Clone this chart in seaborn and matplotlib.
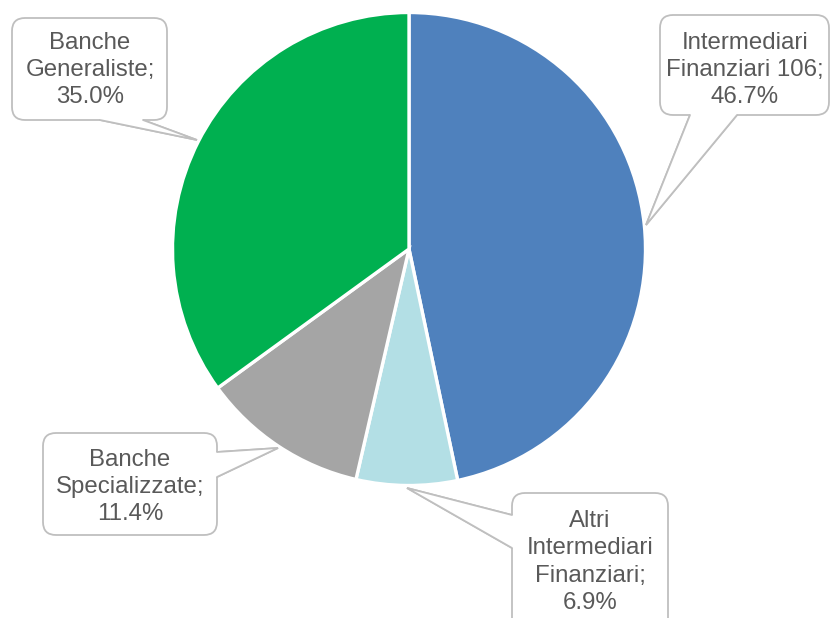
import matplotlib
matplotlib.use("Agg")
import matplotlib.pyplot as plt
import seaborn as sns
from matplotlib.patches import FancyBboxPatch, Polygon
from matplotlib.lines import Line2D

# ---- data ----
categories = ["Intermediari\nFinanziari 106", "Altri\nIntermediari\nFinanziari",
              "Banche\nSpecializzate", "Banche\nGeneraliste"]
values = [46.7, 6.9, 11.4, 35.0]
labels = ["Intermediari\nFinanziari 106;\n46.7%", "Altri\nIntermediari\nFinanziari;\n6.9%",
          "Banche\nSpecializzate;\n11.4%", "Banche\nGeneraliste;\n35.0%"]
colors = ["#4F81BD", "#B3DFE5", "#A5A5A5", "#00B050"]

sns.set_theme(style="white")
plt.rcParams["font.family"] = ["Liberation Sans", "DejaVu Sans"]

W, H = 832, 618
fig = plt.figure(figsize=(W / 100, H / 100), dpi=100)
ax = fig.add_axes([0, 0, 1, 1])
ax.set_xlim(0, W)
ax.set_ylim(0, H)
ax.set_aspect("equal")
ax.axis("off")

cx, cy, r = 409, 249, 236.5
ax.pie(values, colors=colors, startangle=90, counterclock=False,
       center=(cx, H - cy), radius=r, frame=True,
       wedgeprops=dict(edgecolor="white", linewidth=2.4))
ax.set_xlim(0, W)
ax.set_ylim(0, H)
ax.axis("off")

edge = "#BFBFBF"
tcol = "#595959"


def Y(y):
    return H - y


def callout(box, b1, b2, tip, inward, text, tx, ty):
    x0, y0, x1, y1 = box
    tri = Polygon([(b1[0], Y(b1[1])), (tip[0], Y(tip[1])), (b2[0], Y(b2[1]))],
                  closed=True, facecolor="white", edgecolor=edge, lw=1.3, zorder=3)
    ax.add_patch(tri)
    bx = FancyBboxPatch((x0, Y(y1)), x1 - x0, y1 - y0,
                        boxstyle="round,pad=0,rounding_size=13",
                        facecolor="white", edgecolor=edge, lw=1.3, zorder=4)
    ax.add_patch(bx)
    dx, dy = inward
    cover = Polygon([(b1[0] + dx, Y(b1[1] + dy)), (b1[0], Y(b1[1])), (tip[0], Y(tip[1])),
                     (b2[0], Y(b2[1])), (b2[0] + dx, Y(b2[1] + dy))],
                    closed=True, facecolor="white", edgecolor="none", zorder=5)
    ax.add_patch(cover)
    ax.add_line(Line2D([b1[0], tip[0], b2[0]], [Y(b1[1]), Y(tip[1]), Y(b2[1])],
                       color=edge, lw=1.3, zorder=6, solid_joinstyle="miter"))
    ax.text(tx, Y(ty), text, ha="center", va="center", fontsize=17.3, color=tcol,
            linespacing=1.3, zorder=7)


callout((660, 15, 829, 115), (690, 115), (737, 115), (646, 225), (0, -3),
        labels[0], 745, 70)
callout((512, 493, 668, 640), (512, 515), (512, 548), (407, 488), (3, 0),
        labels[1], 590, 562)
callout((43, 433, 217, 535), (217, 452), (217, 477), (278, 448), (-3, 0),
        labels[2], 130, 487)
callout((12, 18, 167, 120), (100, 120), (143, 120), (197, 140), (0, -3),
        labels[3], 90, 70)

fig.savefig("out.png", dpi=100)
